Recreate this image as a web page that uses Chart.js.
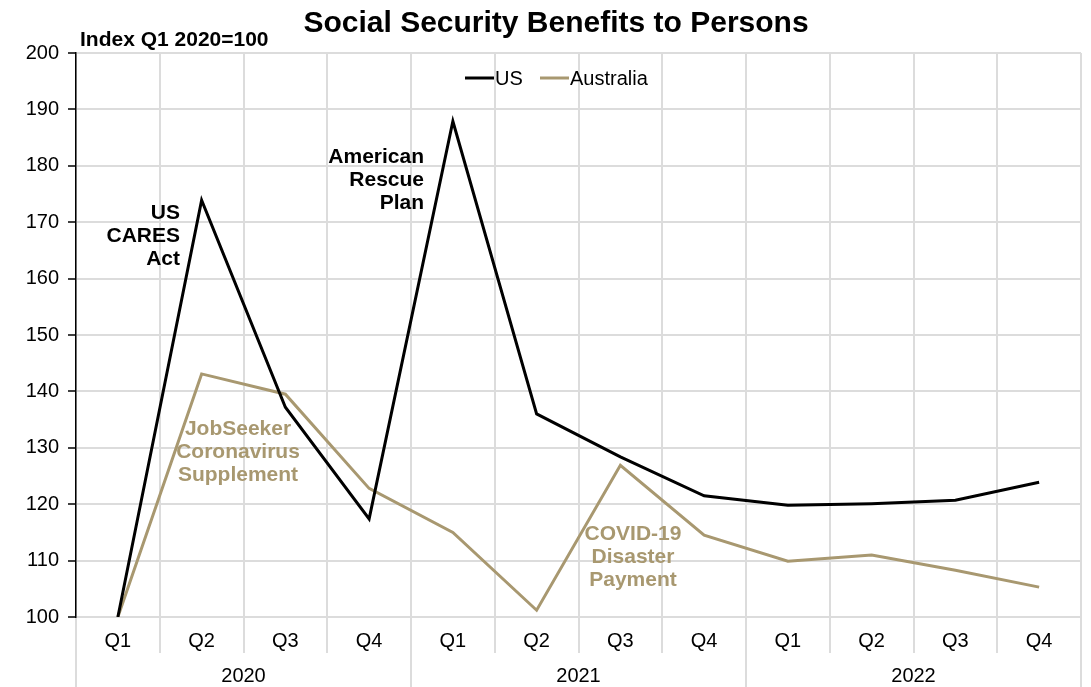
<!DOCTYPE html>
<html>
<head>
<meta charset="utf-8">
<script src="https://cdn.jsdelivr.net/npm/chart.js@4.4.1/dist/chart.umd.min.js"></script>
<style>
  html, body { margin: 0; padding: 0; background: #ffffff; }
  #wrap { width: 1091px; height: 687px; }
</style>
</head>
<body>
<div id="wrap"><canvas id="c" width="1091" height="687"></canvas></div>
<script>
const quarters = ['Q1','Q2','Q3','Q4','Q1','Q2','Q3','Q4','Q1','Q2','Q3','Q4'];
const years = ['2020','2021','2022'];
const usValues = [100, 173.9, 137.2, 117.4, 187.9, 136.0, 128.4, 121.5, 119.8, 120.1, 120.7, 123.9];
const australiaValues = [100, 143.1, 139.5, 122.8, 115.0, 101.2, 126.9, 114.5, 109.9, 111.0, 108.3, 105.3];
const yTicks = [100, 110, 120, 130, 140, 150, 160, 170, 180, 190, 200];
const seriesNames = ['US', 'Australia'];

const FONT = '"Liberation Sans", Arial, sans-serif';
const GOLD = '#a89870';
const GRID = '#dcdcdc';

const annotations = [
  { lines: ['US', 'CARES', 'Act'], x: 180, y: 213, align: 'right', color: '#000000' },
  { lines: ['American', 'Rescue', 'Plan'], x: 424, y: 157, align: 'right', color: '#000000' },
  { lines: ['JobSeeker', 'Coronavirus', 'Supplement'], x: 238, y: 429, align: 'center', color: GOLD },
  { lines: ['COVID-19', 'Disaster', 'Payment'], x: 633, y: 534, align: 'center', color: GOLD }
];

const textPlugin = {
  id: 'textPlugin',
  afterDatasetsDraw(chart) {
    const ctx = chart.ctx;
    ctx.save();
    // title
    ctx.fillStyle = '#000000';
    ctx.textAlign = 'center';
    ctx.textBaseline = 'alphabetic';
    ctx.font = 'bold 30px ' + FONT;
    ctx.fillText('Social Security Benefits to Persons', 556, 32);
    // unit label
    ctx.font = 'bold 21px ' + FONT;
    ctx.textAlign = 'left';
    ctx.fillText('Index Q1 2020=100', 80, 46);
    // annotations
    ctx.textBaseline = 'middle';
    ctx.font = 'bold 21px ' + FONT;
    annotations.forEach(a => {
      ctx.fillStyle = a.color;
      ctx.textAlign = a.align;
      a.lines.forEach((l, i) => ctx.fillText(l, a.x, a.y + i * 23));
    });
    // legend
    const legendItems = [
      { name: seriesNames[0], color: '#000000', x0: 465 },
      { name: seriesNames[1], color: GOLD, x0: 540 }
    ];
    ctx.font = '20px ' + FONT;
    ctx.textAlign = 'left';
    ctx.lineWidth = 3;
    legendItems.forEach(it => {
      ctx.strokeStyle = it.color;
      ctx.beginPath();
      ctx.moveTo(it.x0, 78);
      ctx.lineTo(it.x0 + 29, 78);
      ctx.stroke();
      ctx.fillStyle = '#000000';
      ctx.fillText(it.name, it.x0 + 30, 79);
    });
    ctx.restore();
  }
};

new Chart(document.getElementById('c'), {
  type: 'line',
  data: {
    labels: quarters,
    datasets: [
      { label: seriesNames[0], data: usValues, borderColor: '#000000', backgroundColor: '#000000',
        borderWidth: 3, pointRadius: 0, tension: 0, xAxisID: 'x', yAxisID: 'y' },
      { label: seriesNames[1], data: australiaValues, borderColor: GOLD, backgroundColor: GOLD,
        borderWidth: 3, pointRadius: 0, tension: 0, xAxisID: 'x', yAxisID: 'y' }
    ]
  },
  options: {
    responsive: false,
    animation: false,
    layout: { padding: { left: 0, right: 10, top: 53, bottom: 0 } },
    plugins: {
      title: { display: false },
      legend: { display: false },
      tooltip: { enabled: false }
    },
    scales: {
      x: {
        type: 'category',
        position: 'bottom',
        offset: true,
        grid: { color: GRID, lineWidth: 2, offset: true, tickLength: 36, tickColor: GRID },
        border: { color: GRID, width: 2 },
        ticks: { color: '#000000', font: { family: FONT, size: 20 }, padding: -23.5, maxRotation: 0, autoSkip: false },
        afterFit(s) { s.height = 36; }
      },
      x2: {
        type: 'category',
        position: 'bottom',
        labels: years,
        offset: true,
        grid: { color: GRID, lineWidth: 2, offset: true, drawOnChartArea: false, tickLength: 34, tickColor: GRID },
        border: { display: false },
        ticks: { color: '#000000', font: { family: FONT, size: 20 }, padding: -22.5, maxRotation: 0, autoSkip: false },
        afterFit(s) { s.height = 34; }
      },
      y: {
        type: 'linear',
        min: 100,
        max: 200,
        afterBuildTicks(s) { s.ticks = yTicks.map(v => ({ value: v })); },
        grid: { color: GRID, lineWidth: 2, tickLength: 8, tickColor: '#000000', tickWidth: 1.5 },
        border: { color: '#000000', width: 1.5 },
        ticks: { color: '#000000', font: { family: FONT, size: 20 }, padding: 9 },
        afterFit(s) { s.width = 76; }
      }
    }
  },
  plugins: [textPlugin]
});
</script>
</body>
</html>
